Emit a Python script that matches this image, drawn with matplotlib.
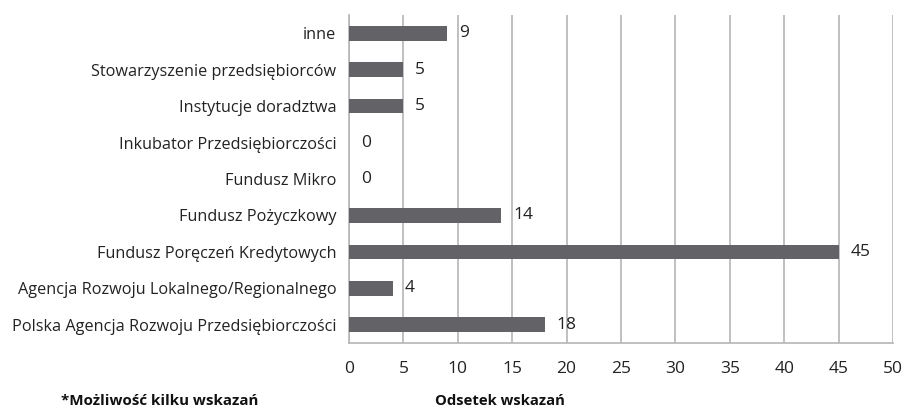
import matplotlib
matplotlib.use('Agg')
import matplotlib.pyplot as plt

categories = [
    'Polska Agencja Rozwoju Przedsiębiorczości',
    'Agencja Rozwoju Lokalnego/Regionalnego',
    'Fundusz Poręczeń Kredytowych',
    'Fundusz Pożyczkowy',
    'Fundusz Mikro',
    'Inkubator Przedsiębiorczości',
    'Instytucje doradztwa',
    'Stowarzyszenie przedsiębiorców',
    'inne',
]
values = [18, 4, 45, 14, 0, 0, 5, 5, 9]
xticks = list(range(0, 55, 5))

plt.rcParams['font.family'] = ['Open Sans', 'DejaVu Sans']

fig = plt.figure(figsize=(9.07, 4.12), dpi=100)
ax = fig.add_axes([349 / 907, 1 - 343 / 412, (893 - 349) / 907, (343 - 15) / 412])

ypos = range(len(categories))
ax.barh(ypos, values, height=0.4, color='#636367', zorder=3)
for y, v in zip(ypos, values):
    ax.text(v + 1.1, y, str(v), va='center', ha='left', fontsize=12.5, color='#222222')

ax.set_xlim(0, 50)
ax.set_ylim(-0.5, len(categories) - 0.5)
ax.set_xticks(xticks)
ax.set_yticks(list(ypos))
ax.set_yticklabels(categories)
ax.tick_params(axis='both', length=0, labelsize=11.7, colors='#222222')
ax.tick_params(axis='x', pad=13, labelsize=12.5)
ax.tick_params(axis='y', pad=9)
ax.grid(axis='x', color='#b5b5b5', linewidth=1.2, zorder=0)
for side in ['top', 'right']:
    ax.spines[side].set_visible(False)
ax.spines['left'].set_color('#b5b5b5')
ax.spines['bottom'].set_color('#b5b5b5')
ax.spines['left'].set_linewidth(1.2)
ax.spines['bottom'].set_linewidth(1.2)

fig.text(500 / 907, 1 - 401 / 412, 'Odsetek wskazań', ha='center', va='center',
         fontsize=10.7, fontweight='bold', color='#111111')
fig.text(160 / 907, 1 - 401 / 412, '*Możliwość kilku wskazań', ha='center', va='center',
         fontsize=10.9, fontweight='bold', color='#111111')

fig.savefig('out.png', dpi=100)
